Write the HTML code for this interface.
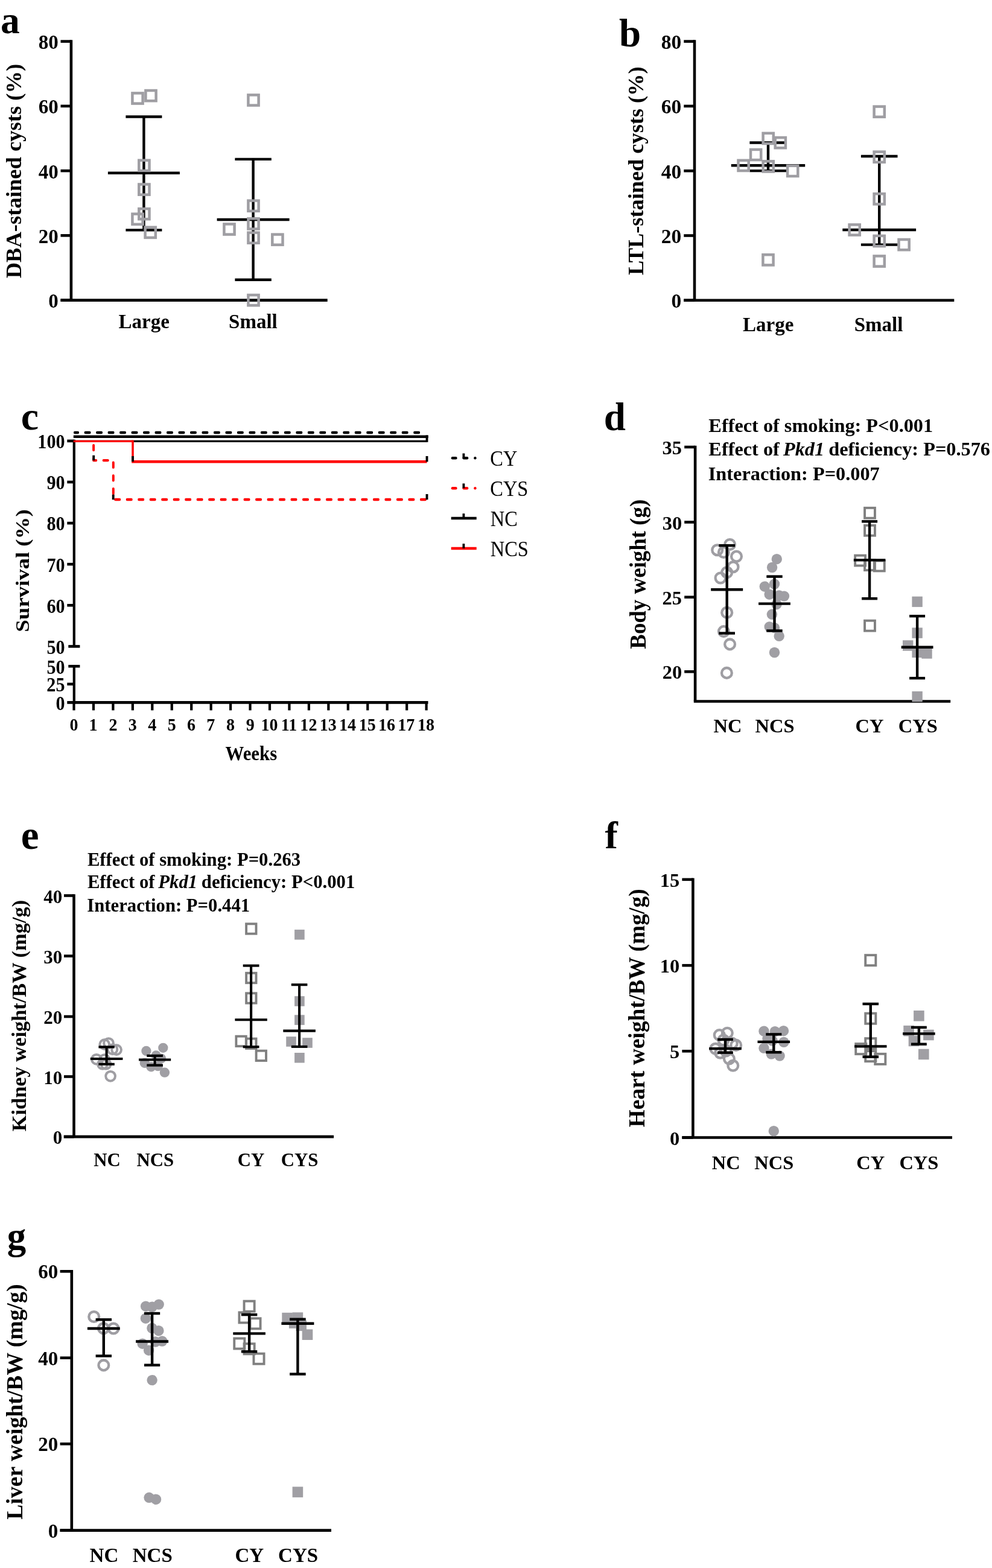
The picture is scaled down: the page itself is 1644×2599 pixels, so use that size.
<!DOCTYPE html>
<html><head><meta charset="utf-8"><title>Figure</title>
<style>
html,body{margin:0;padding:0;background:#fff;}
svg{display:block;}
svg text{font-family:'Liberation Serif', 'Times New Roman', serif;fill:#000;}
</style></head>
<body>
<svg width="1644" height="2599" viewBox="0 0 1644 2599">
<rect width="1644" height="2599" fill="#fff"/>
<text x="0.97" y="54.6" font-size="63.5" font-weight="bold">a</text>
<line x1="117.9" y1="66.3" x2="117.9" y2="497.6" stroke="#000" stroke-width="4.6"/>
<line x1="100.5" y1="68.6" x2="117.9" y2="68.6" stroke="#000" stroke-width="4.6"/>
<text x="63.75" y="81" font-size="33" font-weight="bold">80</text>
<line x1="100.5" y1="175.85" x2="117.9" y2="175.85" stroke="#000" stroke-width="4.6"/>
<text x="63.75" y="188.25" font-size="33" font-weight="bold">60</text>
<line x1="100.5" y1="283.1" x2="117.9" y2="283.1" stroke="#000" stroke-width="4.6"/>
<text x="63.75" y="295.5" font-size="33" font-weight="bold">40</text>
<line x1="100.5" y1="390.35" x2="117.9" y2="390.35" stroke="#000" stroke-width="4.6"/>
<text x="63.75" y="402.75" font-size="33" font-weight="bold">20</text>
<line x1="100.5" y1="497.6" x2="117.9" y2="497.6" stroke="#000" stroke-width="4.6"/>
<text x="80.25" y="510" font-size="33" font-weight="bold">0</text>
<line x1="100.5" y1="497.6" x2="542.7" y2="497.6" stroke="#000" stroke-width="4.6"/>
<text transform="translate(34.9 461.36) rotate(-90)" font-size="36.6" font-weight="bold">DBA-stained cysts (%)</text>
<text x="196.59" y="544" font-size="33" font-weight="bold">Large</text>
<text x="379.06" y="544" font-size="33" font-weight="bold">Small</text>
<line x1="238.4" y1="193.5" x2="238.4" y2="381.4" stroke="#000" stroke-width="4.4"/>
<line x1="208.4" y1="193.5" x2="268.4" y2="193.5" stroke="#000" stroke-width="4.4"/>
<line x1="208.4" y1="381.4" x2="268.4" y2="381.4" stroke="#000" stroke-width="4.4"/>
<line x1="178.9" y1="286.8" x2="297.9" y2="286.8" stroke="#000" stroke-width="4.4"/>
<line x1="419.6" y1="263.9" x2="419.6" y2="463.7" stroke="#000" stroke-width="4.4"/>
<line x1="389.4" y1="263.9" x2="449.8" y2="263.9" stroke="#000" stroke-width="4.4"/>
<line x1="389.4" y1="463.7" x2="449.8" y2="463.7" stroke="#000" stroke-width="4.4"/>
<line x1="359.6" y1="364" x2="479.6" y2="364" stroke="#000" stroke-width="4.4"/>
<rect x="219.4" y="154.4" width="17.2" height="17.2" fill="none" stroke="#9f9ea3" stroke-width="4.5"/>
<rect x="241.4" y="150" width="17.2" height="17.2" fill="none" stroke="#9f9ea3" stroke-width="4.5"/>
<rect x="230.3" y="265.7" width="17.2" height="17.2" fill="none" stroke="#9f9ea3" stroke-width="4.5"/>
<rect x="230.3" y="305.5" width="17.2" height="17.2" fill="none" stroke="#9f9ea3" stroke-width="4.5"/>
<rect x="230.3" y="346" width="17.2" height="17.2" fill="none" stroke="#9f9ea3" stroke-width="4.5"/>
<rect x="219.4" y="354.6" width="17.2" height="17.2" fill="none" stroke="#9f9ea3" stroke-width="4.5"/>
<rect x="240.6" y="376.7" width="17.2" height="17.2" fill="none" stroke="#9f9ea3" stroke-width="4.5"/>
<rect x="411.4" y="157.4" width="17.2" height="17.2" fill="none" stroke="#9f9ea3" stroke-width="4.5"/>
<rect x="411.4" y="332.6" width="17.2" height="17.2" fill="none" stroke="#9f9ea3" stroke-width="4.5"/>
<rect x="411.4" y="362.3" width="17.2" height="17.2" fill="none" stroke="#9f9ea3" stroke-width="4.5"/>
<rect x="371.4" y="371.4" width="17.2" height="17.2" fill="none" stroke="#9f9ea3" stroke-width="4.5"/>
<rect x="411.4" y="385.6" width="17.2" height="17.2" fill="none" stroke="#9f9ea3" stroke-width="4.5"/>
<rect x="451.3" y="388.6" width="17.2" height="17.2" fill="none" stroke="#9f9ea3" stroke-width="4.5"/>
<rect x="411.4" y="489" width="17.2" height="17.2" fill="none" stroke="#9f9ea3" stroke-width="4.5"/>
<text x="1026.06" y="76.6" font-size="65" font-weight="bold">b</text>
<line x1="1151" y1="66.3" x2="1151" y2="497.8" stroke="#000" stroke-width="4.6"/>
<line x1="1133.3" y1="68.6" x2="1151" y2="68.6" stroke="#000" stroke-width="4.6"/>
<text x="1095.77" y="81" font-size="33.5" font-weight="bold">80</text>
<line x1="1133.3" y1="175.9" x2="1151" y2="175.9" stroke="#000" stroke-width="4.6"/>
<text x="1095.77" y="188.3" font-size="33.5" font-weight="bold">60</text>
<line x1="1133.3" y1="283.2" x2="1151" y2="283.2" stroke="#000" stroke-width="4.6"/>
<text x="1095.77" y="295.6" font-size="33.5" font-weight="bold">40</text>
<line x1="1133.3" y1="390.5" x2="1151" y2="390.5" stroke="#000" stroke-width="4.6"/>
<text x="1095.77" y="402.9" font-size="33.5" font-weight="bold">20</text>
<line x1="1133.3" y1="497.8" x2="1151" y2="497.8" stroke="#000" stroke-width="4.6"/>
<text x="1112.52" y="510.2" font-size="33.5" font-weight="bold">0</text>
<line x1="1133.3" y1="497.8" x2="1581.3" y2="497.8" stroke="#000" stroke-width="4.6"/>
<text transform="translate(1066.3 456.02) rotate(-90)" font-size="36.3" font-weight="bold">LTL-stained cysts (%)</text>
<text x="1230.99" y="549" font-size="33" font-weight="bold">Large</text>
<text x="1415.76" y="549" font-size="33" font-weight="bold">Small</text>
<line x1="1273" y1="236.5" x2="1273" y2="283.1" stroke="#000" stroke-width="4.4"/>
<line x1="1242.4" y1="236.5" x2="1303.6" y2="236.5" stroke="#000" stroke-width="4.4"/>
<line x1="1242.4" y1="283.1" x2="1303.6" y2="283.1" stroke="#000" stroke-width="4.4"/>
<line x1="1211.8" y1="274.3" x2="1334.2" y2="274.3" stroke="#000" stroke-width="4.4"/>
<line x1="1457.2" y1="259" x2="1457.2" y2="405.6" stroke="#000" stroke-width="4.4"/>
<line x1="1426.9" y1="259" x2="1487.5" y2="259" stroke="#000" stroke-width="4.4"/>
<line x1="1426.9" y1="405.6" x2="1487.5" y2="405.6" stroke="#000" stroke-width="4.4"/>
<line x1="1396.3" y1="381" x2="1518.1" y2="381" stroke="#000" stroke-width="4.4"/>
<rect x="1264.6" y="220.8" width="17.2" height="17.2" fill="none" stroke="#9f9ea3" stroke-width="4.5"/>
<rect x="1284.7" y="228" width="17.2" height="17.2" fill="none" stroke="#9f9ea3" stroke-width="4.5"/>
<rect x="1244" y="247.9" width="17.2" height="17.2" fill="none" stroke="#9f9ea3" stroke-width="4.5"/>
<rect x="1223.5" y="265.8" width="17.2" height="17.2" fill="none" stroke="#9f9ea3" stroke-width="4.5"/>
<rect x="1264.6" y="267.3" width="17.2" height="17.2" fill="none" stroke="#9f9ea3" stroke-width="4.5"/>
<rect x="1305.1" y="274.8" width="17.2" height="17.2" fill="none" stroke="#9f9ea3" stroke-width="4.5"/>
<rect x="1264.4" y="422.2" width="17.2" height="17.2" fill="none" stroke="#9f9ea3" stroke-width="4.5"/>
<rect x="1448.6" y="176.6" width="17.2" height="17.2" fill="none" stroke="#9f9ea3" stroke-width="4.5"/>
<rect x="1448.6" y="251.6" width="17.2" height="17.2" fill="none" stroke="#9f9ea3" stroke-width="4.5"/>
<rect x="1448.6" y="321.2" width="17.2" height="17.2" fill="none" stroke="#9f9ea3" stroke-width="4.5"/>
<rect x="1407.6" y="372.4" width="17.2" height="17.2" fill="none" stroke="#9f9ea3" stroke-width="4.5"/>
<rect x="1448.6" y="390.9" width="17.2" height="17.2" fill="none" stroke="#9f9ea3" stroke-width="4.5"/>
<rect x="1489.5" y="397" width="17.2" height="17.2" fill="none" stroke="#9f9ea3" stroke-width="4.5"/>
<rect x="1448.6" y="424.4" width="17.2" height="17.2" fill="none" stroke="#9f9ea3" stroke-width="4.5"/>
<text x="34.76" y="712.4" font-size="66" font-weight="bold">c</text>
<line x1="122.8" y1="728.7" x2="122.8" y2="1071.4" stroke="#000" stroke-width="4.2"/>
<line x1="111.3" y1="730.9" x2="122.8" y2="730.9" stroke="#000" stroke-width="4.6"/>
<text transform="translate(62.32 743.2) scale(0.9 1)" font-size="33.5" font-weight="bold">100</text>
<line x1="111.3" y1="799" x2="122.8" y2="799" stroke="#000" stroke-width="4.6"/>
<text transform="translate(77.4 811.3) scale(0.9 1)" font-size="33.5" font-weight="bold">90</text>
<line x1="111.3" y1="867.1" x2="122.8" y2="867.1" stroke="#000" stroke-width="4.6"/>
<text transform="translate(77.4 879.4) scale(0.9 1)" font-size="33.5" font-weight="bold">80</text>
<line x1="111.3" y1="935.2" x2="122.8" y2="935.2" stroke="#000" stroke-width="4.6"/>
<text transform="translate(77.4 947.5) scale(0.9 1)" font-size="33.5" font-weight="bold">70</text>
<line x1="111.3" y1="1003.3" x2="122.8" y2="1003.3" stroke="#000" stroke-width="4.6"/>
<text transform="translate(77.4 1015.6) scale(0.9 1)" font-size="33.5" font-weight="bold">60</text>
<line x1="113.3" y1="1071.4" x2="132.4" y2="1071.4" stroke="#000" stroke-width="4.6"/>
<text transform="translate(77.4 1083.7) scale(0.9 1)" font-size="33.5" font-weight="bold">50</text>
<line x1="122.8" y1="1104.3" x2="122.8" y2="1166.7" stroke="#000" stroke-width="4.2"/>
<line x1="113.3" y1="1104.3" x2="132.4" y2="1104.3" stroke="#000" stroke-width="4.6"/>
<text transform="translate(77.4 1116.6) scale(0.9 1)" font-size="33.5" font-weight="bold">50</text>
<line x1="111.3" y1="1133.9" x2="122.8" y2="1133.9" stroke="#000" stroke-width="4.6"/>
<text transform="translate(77.37 1146.2) scale(0.9 1)" font-size="33.5" font-weight="bold">25</text>
<line x1="111.3" y1="1164.4" x2="709.5" y2="1164.4" stroke="#000" stroke-width="4.8"/>
<text transform="translate(92.47 1176.7) scale(0.9 1)" font-size="33.5" font-weight="bold">0</text>
<line x1="122.5" y1="1164.4" x2="122.5" y2="1177.4" stroke="#000" stroke-width="4.2"/>
<text transform="translate(115.49 1211) scale(0.95 1)" font-size="29.5" font-weight="bold">0</text>
<line x1="154.95" y1="1164.4" x2="154.95" y2="1177.4" stroke="#000" stroke-width="4.2"/>
<text transform="translate(147.55 1211) scale(0.95 1)" font-size="29.5" font-weight="bold">1</text>
<line x1="187.4" y1="1164.4" x2="187.4" y2="1177.4" stroke="#000" stroke-width="4.2"/>
<text transform="translate(180.41 1211) scale(0.95 1)" font-size="29.5" font-weight="bold">2</text>
<line x1="219.85" y1="1164.4" x2="219.85" y2="1177.4" stroke="#000" stroke-width="4.2"/>
<text transform="translate(212.79 1211) scale(0.95 1)" font-size="29.5" font-weight="bold">3</text>
<line x1="252.3" y1="1164.4" x2="252.3" y2="1177.4" stroke="#000" stroke-width="4.2"/>
<text transform="translate(245.36 1211) scale(0.95 1)" font-size="29.5" font-weight="bold">4</text>
<line x1="284.75" y1="1164.4" x2="284.75" y2="1177.4" stroke="#000" stroke-width="4.2"/>
<text transform="translate(277.7 1211) scale(0.95 1)" font-size="29.5" font-weight="bold">5</text>
<line x1="317.2" y1="1164.4" x2="317.2" y2="1177.4" stroke="#000" stroke-width="4.2"/>
<text transform="translate(310.12 1211) scale(0.95 1)" font-size="29.5" font-weight="bold">6</text>
<line x1="349.65" y1="1164.4" x2="349.65" y2="1177.4" stroke="#000" stroke-width="4.2"/>
<text transform="translate(342.18 1211) scale(0.95 1)" font-size="29.5" font-weight="bold">7</text>
<line x1="382.1" y1="1164.4" x2="382.1" y2="1177.4" stroke="#000" stroke-width="4.2"/>
<text transform="translate(375.09 1211) scale(0.95 1)" font-size="29.5" font-weight="bold">8</text>
<line x1="414.55" y1="1164.4" x2="414.55" y2="1177.4" stroke="#000" stroke-width="4.2"/>
<text transform="translate(407.67 1211) scale(0.95 1)" font-size="29.5" font-weight="bold">9</text>
<line x1="447" y1="1164.4" x2="447" y2="1177.4" stroke="#000" stroke-width="4.2"/>
<text transform="translate(432.4 1211) scale(0.95 1)" font-size="29.5" font-weight="bold">10</text>
<line x1="479.45" y1="1164.4" x2="479.45" y2="1177.4" stroke="#000" stroke-width="4.2"/>
<text transform="translate(465.82 1211) scale(0.95 1)" font-size="29.5" font-weight="bold">11</text>
<line x1="511.9" y1="1164.4" x2="511.9" y2="1177.4" stroke="#000" stroke-width="4.2"/>
<text transform="translate(497.37 1211) scale(0.95 1)" font-size="29.5" font-weight="bold">12</text>
<line x1="544.35" y1="1164.4" x2="544.35" y2="1177.4" stroke="#000" stroke-width="4.2"/>
<text transform="translate(529.69 1211) scale(0.95 1)" font-size="29.5" font-weight="bold">13</text>
<line x1="576.8" y1="1164.4" x2="576.8" y2="1177.4" stroke="#000" stroke-width="4.2"/>
<text transform="translate(561.93 1211) scale(0.95 1)" font-size="29.5" font-weight="bold">14</text>
<line x1="609.25" y1="1164.4" x2="609.25" y2="1177.4" stroke="#000" stroke-width="4.2"/>
<text transform="translate(594.63 1211) scale(0.95 1)" font-size="29.5" font-weight="bold">15</text>
<line x1="641.7" y1="1164.4" x2="641.7" y2="1177.4" stroke="#000" stroke-width="4.2"/>
<text transform="translate(626.97 1211) scale(0.95 1)" font-size="29.5" font-weight="bold">16</text>
<line x1="674.15" y1="1164.4" x2="674.15" y2="1177.4" stroke="#000" stroke-width="4.2"/>
<text transform="translate(659.35 1211) scale(0.95 1)" font-size="29.5" font-weight="bold">17</text>
<line x1="706.6" y1="1164.4" x2="706.6" y2="1177.4" stroke="#000" stroke-width="4.2"/>
<text transform="translate(691.93 1211) scale(0.95 1)" font-size="29.5" font-weight="bold">18</text>
<text transform="translate(373.57 1259.5) scale(0.92 1)" font-size="33.5" font-weight="bold">Weeks</text>
<text transform="translate(48 1047.75) rotate(-90) scale(1 0.88)" font-size="36.8" font-weight="bold">Survival (%)</text>
<g transform="translate(122.8 0) scale(0.9 1) translate(-122.8 0)"><path d="M124.02 717H764.13" stroke="#000" stroke-width="4.4" fill="none" stroke-dasharray="7.85 13.8" stroke-linecap="round" stroke-dashoffset="2.06"/><path d="M121.69 723.7H774.91" stroke="#000" stroke-width="4.6" fill="none"/><path d="M121.69 731.3H772.47" stroke="#000" stroke-width="3.2" fill="none"/><path d="M158.69 731.1V763.1H195.02V828H772.47" stroke="#ff0000" stroke-width="4.4" fill="none" stroke-dasharray="7.85 13.8" stroke-linecap="round" stroke-dashoffset="14.55" stroke-linejoin="round"/><path d="M121.69 731.3H230.8" stroke="#ff0000" stroke-width="3.2" fill="none"/><path d="M230.8 729.7V765.2" stroke="#ff0000" stroke-width="3.9" fill="none"/><path d="M228.8 765.2H772.47" stroke="#ff0000" stroke-width="4.4" fill="none"/><path d="M158.8 754.7V763.2" stroke="#000" stroke-width="4.3" fill="none"/><path d="M194.91 819.7V828.2" stroke="#000" stroke-width="4.3" fill="none"/><path d="M230.8 756V765.2" stroke="#000" stroke-width="4.3" fill="none"/><path d="M772.47 756V765.4" stroke="#000" stroke-width="4.3" fill="none"/><path d="M772.47 819V828.2" stroke="#000" stroke-width="4.3" fill="none"/><path d="M772.47 721.4V732.8" stroke="#000" stroke-width="4.3" fill="none"/></g>
<rect x="747.7" y="757" width="9.9" height="4.6" rx="2.1" ry="2.3" fill="#000"/>
<rect x="766.4" y="757" width="9.9" height="4.6" rx="2.1" ry="2.3" fill="#000"/>
<rect x="785.2" y="757" width="4.4" height="4.6" rx="2.1" ry="2.3" fill="#000"/>
<line x1="768.4" y1="751.5" x2="768.4" y2="759.3" stroke="#000" stroke-width="3.8"/>
<text transform="translate(812.37 772.1) scale(0.9 1)" font-size="36" font-weight="normal">CY</text>
<rect x="747.7" y="806.9" width="9.9" height="4.6" rx="2.1" ry="2.3" fill="#ff0000"/>
<rect x="766.4" y="806.9" width="9.9" height="4.6" rx="2.1" ry="2.3" fill="#ff0000"/>
<rect x="785.2" y="806.9" width="4.4" height="4.6" rx="2.1" ry="2.3" fill="#ff0000"/>
<line x1="768.4" y1="801.4" x2="768.4" y2="809.2" stroke="#000" stroke-width="3.8"/>
<text transform="translate(812.37 822) scale(0.9 1)" font-size="36" font-weight="normal">CYS</text>
<line x1="747.7" y1="859" x2="789.7" y2="859" stroke="#000" stroke-width="4.6"/>
<line x1="768.4" y1="851.2" x2="768.4" y2="859" stroke="#000" stroke-width="3.8"/>
<text transform="translate(812.76 871.8) scale(0.9 1)" font-size="36" font-weight="normal">NC</text>
<line x1="747.7" y1="909" x2="789.7" y2="909" stroke="#ff0000" stroke-width="4.6"/>
<line x1="768.4" y1="901.2" x2="768.4" y2="909" stroke="#000" stroke-width="3.8"/>
<text transform="translate(812.76 921.8) scale(0.9 1)" font-size="36" font-weight="normal">NCS</text>
<text x="1000.74" y="712.8" font-size="65" font-weight="bold">d</text>
<line x1="1152.1" y1="738.7" x2="1152.1" y2="1162.5" stroke="#000" stroke-width="4.6"/>
<line x1="1134.2" y1="741" x2="1152.1" y2="741" stroke="#000" stroke-width="4.6"/>
<text x="1097.6" y="753" font-size="32.5" font-weight="bold">35</text>
<line x1="1134.2" y1="865.5" x2="1152.1" y2="865.5" stroke="#000" stroke-width="4.6"/>
<text x="1097.63" y="877.5" font-size="32.5" font-weight="bold">30</text>
<line x1="1134.2" y1="989.8" x2="1152.1" y2="989.8" stroke="#000" stroke-width="4.6"/>
<text x="1097.6" y="1001.8" font-size="32.5" font-weight="bold">25</text>
<line x1="1134.2" y1="1113.3" x2="1152.1" y2="1113.3" stroke="#000" stroke-width="4.6"/>
<text x="1097.63" y="1125.3" font-size="32.5" font-weight="bold">20</text>
<line x1="1149.8" y1="1162.5" x2="1575.2" y2="1162.5" stroke="#000" stroke-width="4.6"/>
<text transform="translate(1070.3 1075.73) rotate(-90)" font-size="36.9" font-weight="bold">Body weight (g)</text>
<text x="1174.35" y="716" font-size="32.3" font-weight="bold" xml:space="preserve"><tspan>Effect of smoking: P&lt;0.001</tspan></text>
<text x="1174.35" y="754.5" font-size="32.3" font-weight="bold" xml:space="preserve"><tspan>Effect of </tspan><tspan font-style="italic" dx="-0.06em">Pkd1</tspan><tspan dx="-0.03em"> deficiency: P=0.576</tspan></text>
<text x="1173.8" y="795.8" font-size="32.3" font-weight="bold" xml:space="preserve"><tspan>Interaction: P=0.007</tspan></text>
<text x="1182.46" y="1213.6" font-size="32.5" font-weight="bold">NC</text>
<text x="1251.47" y="1213.6" font-size="32.5" font-weight="bold">NCS</text>
<text x="1417.45" y="1213.6" font-size="32.5" font-weight="bold">CY</text>
<text x="1488.69" y="1213.6" font-size="32.5" font-weight="bold">CYS</text>
<circle cx="1209.6" cy="902.5" r="8.4" fill="none" stroke="#9f9ea3" stroke-width="4.3"/>
<circle cx="1188.7" cy="911.7" r="8.4" fill="none" stroke="#9f9ea3" stroke-width="4.3"/>
<circle cx="1199.4" cy="915.5" r="8.4" fill="none" stroke="#9f9ea3" stroke-width="4.3"/>
<circle cx="1220.5" cy="922.3" r="8.4" fill="none" stroke="#9f9ea3" stroke-width="4.3"/>
<circle cx="1215.1" cy="939.7" r="8.4" fill="none" stroke="#9f9ea3" stroke-width="4.3"/>
<circle cx="1204.7" cy="948.8" r="8.4" fill="none" stroke="#9f9ea3" stroke-width="4.3"/>
<circle cx="1194" cy="958" r="8.4" fill="none" stroke="#9f9ea3" stroke-width="4.3"/>
<circle cx="1204.7" cy="1015.3" r="8.4" fill="none" stroke="#9f9ea3" stroke-width="4.3"/>
<circle cx="1199.4" cy="1046.6" r="8.4" fill="none" stroke="#9f9ea3" stroke-width="4.3"/>
<circle cx="1209.6" cy="1067.9" r="8.4" fill="none" stroke="#9f9ea3" stroke-width="4.3"/>
<circle cx="1204.4" cy="1115.4" r="8.4" fill="none" stroke="#9f9ea3" stroke-width="4.3"/>
<circle cx="1287.3" cy="926.7" r="8.7" fill="#a09fa4"/>
<circle cx="1279.6" cy="940.5" r="8.7" fill="#a09fa4"/>
<circle cx="1283.5" cy="968" r="8.7" fill="#a09fa4"/>
<circle cx="1267.3" cy="972.2" r="8.7" fill="#a09fa4"/>
<circle cx="1275.2" cy="985.2" r="8.7" fill="#a09fa4"/>
<circle cx="1291.2" cy="987" r="8.7" fill="#a09fa4"/>
<circle cx="1299.5" cy="988.1" r="8.7" fill="#a09fa4"/>
<circle cx="1287" cy="1001.7" r="8.7" fill="#a09fa4"/>
<circle cx="1279.4" cy="1018.3" r="8.7" fill="#a09fa4"/>
<circle cx="1275.2" cy="1039" r="8.7" fill="#a09fa4"/>
<circle cx="1283.5" cy="1040.7" r="8.7" fill="#a09fa4"/>
<circle cx="1291.2" cy="1054.3" r="8.7" fill="#a09fa4"/>
<circle cx="1283.5" cy="1081.5" r="8.7" fill="#a09fa4"/>
<rect x="1433.05" y="841.85" width="16.9" height="16.9" fill="none" stroke="#808080" stroke-width="3.9"/>
<rect x="1433.05" y="870.85" width="16.9" height="16.9" fill="none" stroke="#808080" stroke-width="3.9"/>
<rect x="1417.15" y="920.65" width="16.9" height="16.9" fill="none" stroke="#808080" stroke-width="3.9"/>
<rect x="1433.05" y="928.25" width="16.9" height="16.9" fill="none" stroke="#808080" stroke-width="3.9"/>
<rect x="1448.85" y="929.55" width="16.9" height="16.9" fill="none" stroke="#808080" stroke-width="3.9"/>
<rect x="1433.05" y="1028.75" width="16.9" height="16.9" fill="none" stroke="#808080" stroke-width="3.9"/>
<rect x="1511.4" y="988.7" width="17.4" height="17.4" fill="#a09fa4"/>
<rect x="1511.4" y="1040.4" width="17.4" height="17.4" fill="#a09fa4"/>
<rect x="1496" y="1061.3" width="17.4" height="17.4" fill="#a09fa4"/>
<rect x="1511.4" y="1072.6" width="17.4" height="17.4" fill="#a09fa4"/>
<rect x="1527.3" y="1074.3" width="17.4" height="17.4" fill="#a09fa4"/>
<rect x="1511.4" y="1145.9" width="17.4" height="17.4" fill="#a09fa4"/>
<line x1="1204.7" y1="904.2" x2="1204.7" y2="1049.6" stroke="#000" stroke-width="4.4"/>
<line x1="1191.4" y1="904.2" x2="1218" y2="904.2" stroke="#000" stroke-width="4.4"/>
<line x1="1191.4" y1="1049.6" x2="1218" y2="1049.6" stroke="#000" stroke-width="4.4"/>
<line x1="1178.2" y1="977.2" x2="1231.2" y2="977.2" stroke="#000" stroke-width="4.4"/>
<line x1="1283.5" y1="955.6" x2="1283.5" y2="1045.5" stroke="#000" stroke-width="4.4"/>
<line x1="1270.3" y1="955.6" x2="1296.7" y2="955.6" stroke="#000" stroke-width="4.4"/>
<line x1="1270.3" y1="1045.5" x2="1296.7" y2="1045.5" stroke="#000" stroke-width="4.4"/>
<line x1="1257.1" y1="1000.6" x2="1309.9" y2="1000.6" stroke="#000" stroke-width="4.4"/>
<line x1="1441.1" y1="864.3" x2="1441.1" y2="992.2" stroke="#000" stroke-width="4.4"/>
<line x1="1428.1" y1="864.3" x2="1454.1" y2="864.3" stroke="#000" stroke-width="4.4"/>
<line x1="1428.1" y1="992.2" x2="1454.1" y2="992.2" stroke="#000" stroke-width="4.4"/>
<line x1="1414.8" y1="928.4" x2="1467.4" y2="928.4" stroke="#000" stroke-width="4.4"/>
<line x1="1520.1" y1="1021.2" x2="1520.1" y2="1124.1" stroke="#000" stroke-width="4.4"/>
<line x1="1507.1" y1="1021.2" x2="1533.1" y2="1021.2" stroke="#000" stroke-width="4.4"/>
<line x1="1507.1" y1="1124.1" x2="1533.1" y2="1124.1" stroke="#000" stroke-width="4.4"/>
<line x1="1493.7" y1="1072.7" x2="1546.5" y2="1072.7" stroke="#000" stroke-width="4.4"/>
<text x="34.72" y="1406.7" font-size="67" font-weight="bold">e</text>
<line x1="122.5" y1="1482.2" x2="122.5" y2="1884.1" stroke="#000" stroke-width="4.6"/>
<line x1="106" y1="1484.5" x2="122.5" y2="1484.5" stroke="#000" stroke-width="4.6"/>
<text x="72.18" y="1496.5" font-size="31" font-weight="bold">40</text>
<line x1="106" y1="1584.6" x2="122.5" y2="1584.6" stroke="#000" stroke-width="4.6"/>
<text x="72.18" y="1596.6" font-size="31" font-weight="bold">30</text>
<line x1="106" y1="1685" x2="122.5" y2="1685" stroke="#000" stroke-width="4.6"/>
<text x="72.18" y="1697" font-size="31" font-weight="bold">20</text>
<line x1="106" y1="1784.5" x2="122.5" y2="1784.5" stroke="#000" stroke-width="4.6"/>
<text x="72.18" y="1796.5" font-size="31" font-weight="bold">10</text>
<line x1="106" y1="1884.1" x2="122.5" y2="1884.1" stroke="#000" stroke-width="4.6"/>
<text x="87.68" y="1896.1" font-size="31" font-weight="bold">0</text>
<line x1="105.7" y1="1884.1" x2="553.1" y2="1884.1" stroke="#000" stroke-width="4.6"/>
<text transform="translate(42.6 1875.28) rotate(-90)" font-size="34.4" font-weight="bold">Kidney weight/BW (mg/g)</text>
<text x="144.88" y="1435.2" font-size="30.7" font-weight="bold" xml:space="preserve"><tspan>Effect of smoking: P=0.263</tspan></text>
<text x="144.88" y="1471.9" font-size="30.7" font-weight="bold" xml:space="preserve"><tspan>Effect of </tspan><tspan font-style="italic" dx="-0.06em">Pkd1</tspan><tspan dx="-0.03em"> deficiency: P&lt;0.001</tspan></text>
<text x="144.36" y="1510.7" font-size="30.7" font-weight="bold" xml:space="preserve"><tspan>Interaction: P=0.441</tspan></text>
<text x="155.24" y="1932.8" font-size="30.8" font-weight="bold">NC</text>
<text x="226.55" y="1932.8" font-size="30.8" font-weight="bold">NCS</text>
<text x="393.8" y="1932.8" font-size="30.8" font-weight="bold">CY</text>
<text x="465.79" y="1932.8" font-size="30.8" font-weight="bold">CYS</text>
<circle cx="173.2" cy="1731.1" r="7.85" fill="none" stroke="#9f9ea3" stroke-width="4"/>
<circle cx="180" cy="1729" r="7.85" fill="none" stroke="#9f9ea3" stroke-width="4"/>
<circle cx="193.1" cy="1740.1" r="7.85" fill="none" stroke="#9f9ea3" stroke-width="4"/>
<circle cx="186.4" cy="1739.4" r="7.85" fill="none" stroke="#9f9ea3" stroke-width="4"/>
<circle cx="159.9" cy="1755.8" r="7.85" fill="none" stroke="#9f9ea3" stroke-width="4"/>
<circle cx="173.3" cy="1756" r="7.85" fill="none" stroke="#9f9ea3" stroke-width="4"/>
<circle cx="170" cy="1764" r="7.85" fill="none" stroke="#9f9ea3" stroke-width="4"/>
<circle cx="175.6" cy="1764" r="7.85" fill="none" stroke="#9f9ea3" stroke-width="4"/>
<circle cx="183.1" cy="1783.8" r="7.85" fill="none" stroke="#9f9ea3" stroke-width="4"/>
<circle cx="270.3" cy="1736.8" r="8.15" fill="#a09fa4"/>
<circle cx="242.4" cy="1742" r="8.15" fill="#a09fa4"/>
<circle cx="258.7" cy="1749.4" r="8.15" fill="#a09fa4"/>
<circle cx="267.1" cy="1754.6" r="8.15" fill="#a09fa4"/>
<circle cx="239.8" cy="1762" r="8.15" fill="#a09fa4"/>
<circle cx="250.3" cy="1768.3" r="8.15" fill="#a09fa4"/>
<circle cx="261.9" cy="1767.2" r="8.15" fill="#a09fa4"/>
<circle cx="272.9" cy="1777.7" r="8.15" fill="#a09fa4"/>
<rect x="408.1" y="1531.3" width="16.4" height="16.4" fill="none" stroke="#808080" stroke-width="3.9"/>
<rect x="408.1" y="1612.8" width="16.4" height="16.4" fill="none" stroke="#808080" stroke-width="3.9"/>
<rect x="408.1" y="1646.3" width="16.4" height="16.4" fill="none" stroke="#808080" stroke-width="3.9"/>
<rect x="391.4" y="1717.7" width="16.4" height="16.4" fill="none" stroke="#808080" stroke-width="3.9"/>
<rect x="408.1" y="1721.6" width="16.4" height="16.4" fill="none" stroke="#808080" stroke-width="3.9"/>
<rect x="424.6" y="1741.7" width="16.4" height="16.4" fill="none" stroke="#808080" stroke-width="3.9"/>
<rect x="488.1" y="1540.9" width="16.6" height="16.6" fill="#a09fa4"/>
<rect x="488.1" y="1651.2" width="16.6" height="16.6" fill="#a09fa4"/>
<rect x="488.1" y="1682.3" width="16.6" height="16.6" fill="#a09fa4"/>
<rect x="474.2" y="1718.2" width="16.6" height="16.6" fill="#a09fa4"/>
<rect x="501.2" y="1720.2" width="16.6" height="16.6" fill="#a09fa4"/>
<rect x="488.1" y="1745" width="16.6" height="16.6" fill="#a09fa4"/>
<line x1="176.6" y1="1735.4" x2="176.6" y2="1763.9" stroke="#000" stroke-width="4.1"/>
<line x1="163.4" y1="1735.4" x2="189.8" y2="1735.4" stroke="#000" stroke-width="4.1"/>
<line x1="163.4" y1="1763.9" x2="189.8" y2="1763.9" stroke="#000" stroke-width="4.1"/>
<line x1="149.8" y1="1755" x2="203.4" y2="1755" stroke="#000" stroke-width="4.1"/>
<line x1="256.6" y1="1749.9" x2="256.6" y2="1765.7" stroke="#000" stroke-width="4.1"/>
<line x1="243.3" y1="1749.9" x2="269.9" y2="1749.9" stroke="#000" stroke-width="4.1"/>
<line x1="243.3" y1="1765.7" x2="269.9" y2="1765.7" stroke="#000" stroke-width="4.1"/>
<line x1="230" y1="1756.5" x2="283.2" y2="1756.5" stroke="#000" stroke-width="4.1"/>
<line x1="416.1" y1="1600.6" x2="416.1" y2="1735.2" stroke="#000" stroke-width="4.1"/>
<line x1="402.7" y1="1600.6" x2="429.5" y2="1600.6" stroke="#000" stroke-width="4.1"/>
<line x1="402.7" y1="1735.2" x2="429.5" y2="1735.2" stroke="#000" stroke-width="4.1"/>
<line x1="389.4" y1="1690.2" x2="442.8" y2="1690.2" stroke="#000" stroke-width="4.1"/>
<line x1="496.1" y1="1632.2" x2="496.1" y2="1734.9" stroke="#000" stroke-width="4.1"/>
<line x1="482.8" y1="1632.2" x2="509.4" y2="1632.2" stroke="#000" stroke-width="4.1"/>
<line x1="482.8" y1="1734.9" x2="509.4" y2="1734.9" stroke="#000" stroke-width="4.1"/>
<line x1="469.3" y1="1708.6" x2="522.9" y2="1708.6" stroke="#000" stroke-width="4.1"/>
<text x="1002.55" y="1405.7" font-size="64" font-weight="bold">f</text>
<line x1="1148.4" y1="1455.5" x2="1148.4" y2="1885.5" stroke="#000" stroke-width="4.6"/>
<line x1="1130.4" y1="1457.8" x2="1148.4" y2="1457.8" stroke="#000" stroke-width="4.6"/>
<text x="1093.8" y="1469.8" font-size="32.5" font-weight="bold">15</text>
<line x1="1130.4" y1="1600.2" x2="1148.4" y2="1600.2" stroke="#000" stroke-width="4.6"/>
<text x="1093.83" y="1612.2" font-size="32.5" font-weight="bold">10</text>
<line x1="1130.4" y1="1742.3" x2="1148.4" y2="1742.3" stroke="#000" stroke-width="4.6"/>
<text x="1110.05" y="1754.3" font-size="32.5" font-weight="bold">5</text>
<line x1="1130.4" y1="1885.5" x2="1148.4" y2="1885.5" stroke="#000" stroke-width="4.6"/>
<text x="1110.08" y="1897.5" font-size="32.5" font-weight="bold">0</text>
<line x1="1130.4" y1="1885.5" x2="1578" y2="1885.5" stroke="#000" stroke-width="4.6"/>
<text transform="translate(1067.8 1868.44) rotate(-90)" font-size="37.5" font-weight="bold">Heart weight/BW (mg/g)</text>
<text x="1179.76" y="1937.5" font-size="32.5" font-weight="bold">NC</text>
<text x="1250.27" y="1937.5" font-size="32.5" font-weight="bold">NCS</text>
<text x="1419.25" y="1937.5" font-size="32.5" font-weight="bold">CY</text>
<text x="1490.39" y="1937.5" font-size="32.5" font-weight="bold">CYS</text>
<circle cx="1192.2" cy="1715.6" r="8.4" fill="none" stroke="#9f9ea3" stroke-width="4.3"/>
<circle cx="1205.3" cy="1712.2" r="8.4" fill="none" stroke="#9f9ea3" stroke-width="4.3"/>
<circle cx="1199" cy="1724" r="8.4" fill="none" stroke="#9f9ea3" stroke-width="4.3"/>
<circle cx="1213.3" cy="1729.4" r="8.4" fill="none" stroke="#9f9ea3" stroke-width="4.3"/>
<circle cx="1219.7" cy="1732.4" r="8.4" fill="none" stroke="#9f9ea3" stroke-width="4.3"/>
<circle cx="1185.8" cy="1738.3" r="8.4" fill="none" stroke="#9f9ea3" stroke-width="4.3"/>
<circle cx="1193.6" cy="1745.2" r="8.4" fill="none" stroke="#9f9ea3" stroke-width="4.3"/>
<circle cx="1203" cy="1742" r="8.4" fill="none" stroke="#9f9ea3" stroke-width="4.3"/>
<circle cx="1208.4" cy="1755" r="8.4" fill="none" stroke="#9f9ea3" stroke-width="4.3"/>
<circle cx="1214.8" cy="1766.3" r="8.4" fill="none" stroke="#9f9ea3" stroke-width="4.3"/>
<circle cx="1266" cy="1709.2" r="8.7" fill="#a09fa4"/>
<circle cx="1284.3" cy="1709.7" r="8.7" fill="#a09fa4"/>
<circle cx="1298.5" cy="1708.7" r="8.7" fill="#a09fa4"/>
<circle cx="1280" cy="1725" r="8.7" fill="#a09fa4"/>
<circle cx="1272" cy="1722" r="8.7" fill="#a09fa4"/>
<circle cx="1299" cy="1727.4" r="8.7" fill="#a09fa4"/>
<circle cx="1266" cy="1737.3" r="8.7" fill="#a09fa4"/>
<circle cx="1278.3" cy="1747.1" r="8.7" fill="#a09fa4"/>
<circle cx="1292.1" cy="1750.1" r="8.7" fill="#a09fa4"/>
<circle cx="1282.3" cy="1874.7" r="8.7" fill="#a09fa4"/>
<rect x="1434.25" y="1583.15" width="17.1" height="17.1" fill="none" stroke="#808080" stroke-width="3.9"/>
<rect x="1434.25" y="1679.65" width="17.1" height="17.1" fill="none" stroke="#808080" stroke-width="3.9"/>
<rect x="1434.25" y="1721.15" width="17.1" height="17.1" fill="none" stroke="#808080" stroke-width="3.9"/>
<rect x="1418.25" y="1730.05" width="17.1" height="17.1" fill="none" stroke="#808080" stroke-width="3.9"/>
<rect x="1434.25" y="1742.15" width="17.1" height="17.1" fill="none" stroke="#808080" stroke-width="3.9"/>
<rect x="1450.25" y="1746.85" width="17.1" height="17.1" fill="none" stroke="#808080" stroke-width="3.9"/>
<rect x="1514.1" y="1675" width="17.6" height="17.6" fill="#a09fa4"/>
<rect x="1497.3" y="1699.9" width="17.6" height="17.6" fill="#a09fa4"/>
<rect x="1530.1" y="1706.7" width="17.6" height="17.6" fill="#a09fa4"/>
<rect x="1505.7" y="1716.7" width="17.6" height="17.6" fill="#a09fa4"/>
<rect x="1522" y="1738.7" width="17.6" height="17.6" fill="#a09fa4"/>
<line x1="1202" y1="1723" x2="1202" y2="1744.7" stroke="#000" stroke-width="4.4"/>
<line x1="1189.2" y1="1723" x2="1214.8" y2="1723" stroke="#000" stroke-width="4.4"/>
<line x1="1189.2" y1="1744.7" x2="1214.8" y2="1744.7" stroke="#000" stroke-width="4.4"/>
<line x1="1175.2" y1="1738.1" x2="1228.8" y2="1738.1" stroke="#000" stroke-width="4.4"/>
<line x1="1282.3" y1="1714.4" x2="1282.3" y2="1744.2" stroke="#000" stroke-width="4.4"/>
<line x1="1269.3" y1="1714.4" x2="1295.3" y2="1714.4" stroke="#000" stroke-width="4.4"/>
<line x1="1269.3" y1="1744.2" x2="1295.3" y2="1744.2" stroke="#000" stroke-width="4.4"/>
<line x1="1255.5" y1="1726.9" x2="1309.1" y2="1726.9" stroke="#000" stroke-width="4.4"/>
<line x1="1442.8" y1="1664" x2="1442.8" y2="1751.7" stroke="#000" stroke-width="4.4"/>
<line x1="1429.5" y1="1664" x2="1456.1" y2="1664" stroke="#000" stroke-width="4.4"/>
<line x1="1429.5" y1="1751.7" x2="1456.1" y2="1751.7" stroke="#000" stroke-width="4.4"/>
<line x1="1416.1" y1="1734.4" x2="1469.5" y2="1734.4" stroke="#000" stroke-width="4.4"/>
<line x1="1522.9" y1="1702.9" x2="1522.9" y2="1730.7" stroke="#000" stroke-width="4.4"/>
<line x1="1510" y1="1702.9" x2="1535.8" y2="1702.9" stroke="#000" stroke-width="4.4"/>
<line x1="1510" y1="1730.7" x2="1535.8" y2="1730.7" stroke="#000" stroke-width="4.4"/>
<line x1="1496.1" y1="1713.4" x2="1549.7" y2="1713.4" stroke="#000" stroke-width="4.4"/>
<text x="11.86" y="2070.1" font-size="63" font-weight="bold">g</text>
<line x1="118.8" y1="2105" x2="118.8" y2="2536.6" stroke="#000" stroke-width="4.6"/>
<line x1="99.6" y1="2107.3" x2="118.8" y2="2107.3" stroke="#000" stroke-width="4.6"/>
<text x="63.25" y="2119.3" font-size="33" font-weight="bold">60</text>
<line x1="99.6" y1="2250.7" x2="118.8" y2="2250.7" stroke="#000" stroke-width="4.6"/>
<text x="63.25" y="2262.7" font-size="33" font-weight="bold">40</text>
<line x1="99.6" y1="2393.3" x2="118.8" y2="2393.3" stroke="#000" stroke-width="4.6"/>
<text x="63.25" y="2405.3" font-size="33" font-weight="bold">20</text>
<line x1="99.6" y1="2536.6" x2="118.8" y2="2536.6" stroke="#000" stroke-width="4.6"/>
<text x="79.75" y="2548.6" font-size="33" font-weight="bold">0</text>
<line x1="99.6" y1="2536.6" x2="549" y2="2536.6" stroke="#000" stroke-width="4.6"/>
<text transform="translate(36.6 2518.64) rotate(-90)" font-size="37.7" font-weight="bold">Liver weight/BW (mg/g)</text>
<text x="148.61" y="2588.9" font-size="33" font-weight="bold">NC</text>
<text x="219.78" y="2588.9" font-size="33" font-weight="bold">NCS</text>
<text x="389.48" y="2588.9" font-size="33" font-weight="bold">CY</text>
<text x="461.08" y="2588.9" font-size="33" font-weight="bold">CYS</text>
<circle cx="155.7" cy="2182.5" r="8.4" fill="none" stroke="#9f9ea3" stroke-width="4.3"/>
<circle cx="171.5" cy="2201.8" r="8.4" fill="none" stroke="#9f9ea3" stroke-width="4.3"/>
<circle cx="188" cy="2202" r="8.4" fill="none" stroke="#9f9ea3" stroke-width="4.3"/>
<circle cx="171.8" cy="2262.9" r="8.4" fill="none" stroke="#9f9ea3" stroke-width="4.3"/>
<circle cx="241.6" cy="2165.2" r="8.7" fill="#a09fa4"/>
<circle cx="251.9" cy="2166.3" r="8.7" fill="#a09fa4"/>
<circle cx="263.2" cy="2162.1" r="8.7" fill="#a09fa4"/>
<circle cx="241.4" cy="2185.2" r="8.7" fill="#a09fa4"/>
<circle cx="251.9" cy="2201.5" r="8.7" fill="#a09fa4"/>
<circle cx="262.9" cy="2205.7" r="8.7" fill="#a09fa4"/>
<circle cx="236.1" cy="2227.2" r="8.7" fill="#a09fa4"/>
<circle cx="257.6" cy="2224" r="8.7" fill="#a09fa4"/>
<circle cx="268.7" cy="2223" r="8.7" fill="#a09fa4"/>
<circle cx="246.6" cy="2238.2" r="8.7" fill="#a09fa4"/>
<circle cx="252.1" cy="2287.6" r="8.7" fill="#a09fa4"/>
<circle cx="247.1" cy="2482.3" r="8.7" fill="#a09fa4"/>
<circle cx="258.5" cy="2485.2" r="8.7" fill="#a09fa4"/>
<rect x="404.55" y="2156.65" width="17.1" height="17.1" fill="none" stroke="#808080" stroke-width="3.9"/>
<rect x="396.45" y="2175.35" width="17.1" height="17.1" fill="none" stroke="#808080" stroke-width="3.9"/>
<rect x="414.45" y="2185.25" width="17.1" height="17.1" fill="none" stroke="#808080" stroke-width="3.9"/>
<rect x="388.25" y="2218.45" width="17.1" height="17.1" fill="none" stroke="#808080" stroke-width="3.9"/>
<rect x="404.55" y="2227.25" width="17.1" height="17.1" fill="none" stroke="#808080" stroke-width="3.9"/>
<rect x="420.45" y="2243.65" width="17.1" height="17.1" fill="none" stroke="#808080" stroke-width="3.9"/>
<rect x="467.3" y="2175.8" width="17.6" height="17.6" fill="#a09fa4"/>
<rect x="484.6" y="2175.3" width="17.6" height="17.6" fill="#a09fa4"/>
<rect x="478.9" y="2184.2" width="17.6" height="17.6" fill="#a09fa4"/>
<rect x="490.4" y="2188.5" width="17.6" height="17.6" fill="#a09fa4"/>
<rect x="500.7" y="2203.4" width="17.6" height="17.6" fill="#a09fa4"/>
<rect x="484.6" y="2464.3" width="17.6" height="17.6" fill="#a09fa4"/>
<line x1="171.8" y1="2187.3" x2="171.8" y2="2247.5" stroke="#000" stroke-width="4.4"/>
<line x1="158.6" y1="2187.3" x2="185" y2="2187.3" stroke="#000" stroke-width="4.4"/>
<line x1="158.6" y1="2247.5" x2="185" y2="2247.5" stroke="#000" stroke-width="4.4"/>
<line x1="144.9" y1="2202" x2="198.7" y2="2202" stroke="#000" stroke-width="4.4"/>
<line x1="252.1" y1="2177" x2="252.1" y2="2262.7" stroke="#000" stroke-width="4.4"/>
<line x1="239" y1="2177" x2="265.2" y2="2177" stroke="#000" stroke-width="4.4"/>
<line x1="239" y1="2262.7" x2="265.2" y2="2262.7" stroke="#000" stroke-width="4.4"/>
<line x1="225.1" y1="2223.5" x2="279.1" y2="2223.5" stroke="#000" stroke-width="4.4"/>
<line x1="413.1" y1="2179.1" x2="413.1" y2="2240.3" stroke="#000" stroke-width="4.4"/>
<line x1="399.9" y1="2179.1" x2="426.3" y2="2179.1" stroke="#000" stroke-width="4.4"/>
<line x1="399.9" y1="2240.3" x2="426.3" y2="2240.3" stroke="#000" stroke-width="4.4"/>
<line x1="386.3" y1="2210.4" x2="439.9" y2="2210.4" stroke="#000" stroke-width="4.4"/>
<line x1="493.4" y1="2186.7" x2="493.4" y2="2277.6" stroke="#000" stroke-width="4.4"/>
<line x1="480.1" y1="2186.7" x2="506.7" y2="2186.7" stroke="#000" stroke-width="4.4"/>
<line x1="480.1" y1="2277.6" x2="506.7" y2="2277.6" stroke="#000" stroke-width="4.4"/>
<line x1="466.4" y1="2193.8" x2="520.4" y2="2193.8" stroke="#000" stroke-width="4.4"/>
</svg>
</body></html>
